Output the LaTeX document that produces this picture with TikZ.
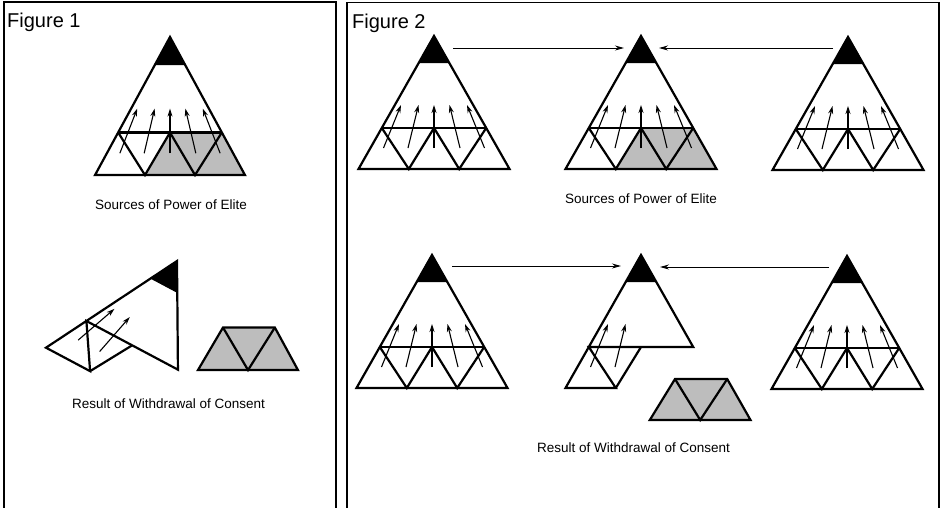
\documentclass[tikz,border=0pt]{standalone}
\usepackage{fontspec}
\setmainfont{Liberation Sans}
\usetikzlibrary{arrows.meta}

\tikzset{
  outline/.style={line width=2.2pt, line join=miter},
  upar/.style={line width=1.1pt, -{Stealth[length=8pt,width=5pt]}},
  link/.style={line width=0.9pt, -{Stealth[length=9pt,width=5pt]}},
  frame/.style={line width=1.2pt},
  shadearea/.style={fill=black!26},
  caption/.style={font=\fontsize{13.5}{15}\selectfont, inner sep=0pt, anchor=base},
  figlabel/.style={font=\fontsize{20}{22}\selectfont, inner sep=0pt, anchor=base west},
}

% local pyramid, apex at origin, y grows downward
\newcommand\PyrTip{\fill (0,0) -- (-15.3,27) -- (15.3,27) -- cycle;}
\newcommand\PyrShade{\fill[shadearea] (-25.2,133) -- (75.5,133) -- (52.2,92) -- (0,92) -- cycle;}
\newcommand\PyrFull{%
  \draw[outline] (0,0) -- (-75.5,133) -- (75.5,133) -- cycle;
  \draw[outline] (-52.2,92) -- (52.2,92);
  \draw[outline] (-52.2,92) -- (-25.2,133) -- (0,92) -- (25.2,133) -- (52.2,92);}
\newcommand\PyrRest{%
  \draw[outline] (52.2,92) -- (0,0) -- (-75.5,133) -- (-25.2,133) -- (-52.2,92) -- cycle;
  \draw[outline] (-25.2,133) -- (0,92);}
\newcommand\PyrPiece{%
  \fill[shadearea] (-25.2,133) -- (75.5,133) -- (52.2,92) -- (0,92) -- cycle;
  \draw[outline] (-25.2,133) -- (75.5,133) -- (52.2,92) -- (0,92) -- cycle;
  \draw[outline] (0,92) -- (25.2,133) -- (52.2,92);}
\newcommand\PyrArrowsL{%
  \draw[upar] (-50.5,112) -- (-33,69);
  \draw[upar] (-26,112) -- (-15.5,69);}
\newcommand\PyrArrowsR{%
  \draw[upar] (0,112) -- (0,69);
  \draw[upar] (26,112) -- (15.5,69);
  \draw[upar] (50.5,112) -- (33,69);}

\begin{document}
\begin{tikzpicture}[x=1pt,y=-1pt]
\useasboundingbox (0,0) rectangle (941,507);

% frames
\draw[frame] (4,508) -- (4,2) -- (336,2) -- (336,508);
\draw[frame] (347,508) -- (347,2.5) -- (939,2.5) -- (939,508);
\node[figlabel] (f1) at (7,27) {Figure 1};
\node[figlabel] (f2) at (352,28) {Figure 2};

% ---------- Figure 1 ----------
\begin{scope}[shift={(170,37)}, xscale=0.993, yscale=1.038]
  \PyrShade \PyrTip \PyrFull \PyrArrowsL \PyrArrowsR
\end{scope}
\node[caption] (c1) at (171,209) {Sources of Power of Elite};

\begin{scope}[shift={(177,261)}, rotate=-28, xscale=0.993, yscale=1.038]
  \PyrTip \PyrRest \PyrArrowsL
\end{scope}
\begin{scope}[shift={(223,232)}, xscale=0.993, yscale=1.038]
  \PyrPiece
\end{scope}
\node[caption] (c2) at (168.5,408) {Result of Withdrawal of Consent};

% ---------- Figure 2, top row ----------
\begin{scope}[shift={(434,36)}]
  \PyrTip \PyrFull \PyrArrowsL \PyrArrowsR
\end{scope}
\begin{scope}[shift={(641,36)}]
  \PyrShade \PyrTip \PyrFull \PyrArrowsL \PyrArrowsR
\end{scope}
\begin{scope}[shift={(848,37)}]
  \PyrTip \PyrFull \PyrArrowsL \PyrArrowsR
\end{scope}
\coordinate (ta) at (453,48);
\coordinate (tb) at (624,48);
\coordinate (tc) at (833,48);
\coordinate (td) at (659,48);
\draw[link] (ta) -- (tb);
\draw[link] (tc) -- (td);
\node[caption] (c3) at (641,203) {Sources of Power of Elite};

% ---------- Figure 2, bottom row ----------
\begin{scope}[shift={(432,255)}]
  \PyrTip \PyrFull \PyrArrowsL \PyrArrowsR
\end{scope}
\begin{scope}[shift={(641,255)}]
  \PyrTip \PyrRest \PyrArrowsL
\end{scope}
\begin{scope}[shift={(675,287)}]
  \PyrPiece
\end{scope}
\begin{scope}[shift={(847,256)}]
  \PyrTip \PyrFull \PyrArrowsL \PyrArrowsR
\end{scope}
\coordinate (ba) at (452,266);
\coordinate (bb) at (621,266);
\coordinate (bc) at (829,267);
\coordinate (bd) at (660,267);
\draw[link] (ba) -- (bb);
\draw[link] (bc) -- (bd);
\node[caption] (c4) at (633.5,452) {Result of Withdrawal of Consent};
\end{tikzpicture}
\end{document}
